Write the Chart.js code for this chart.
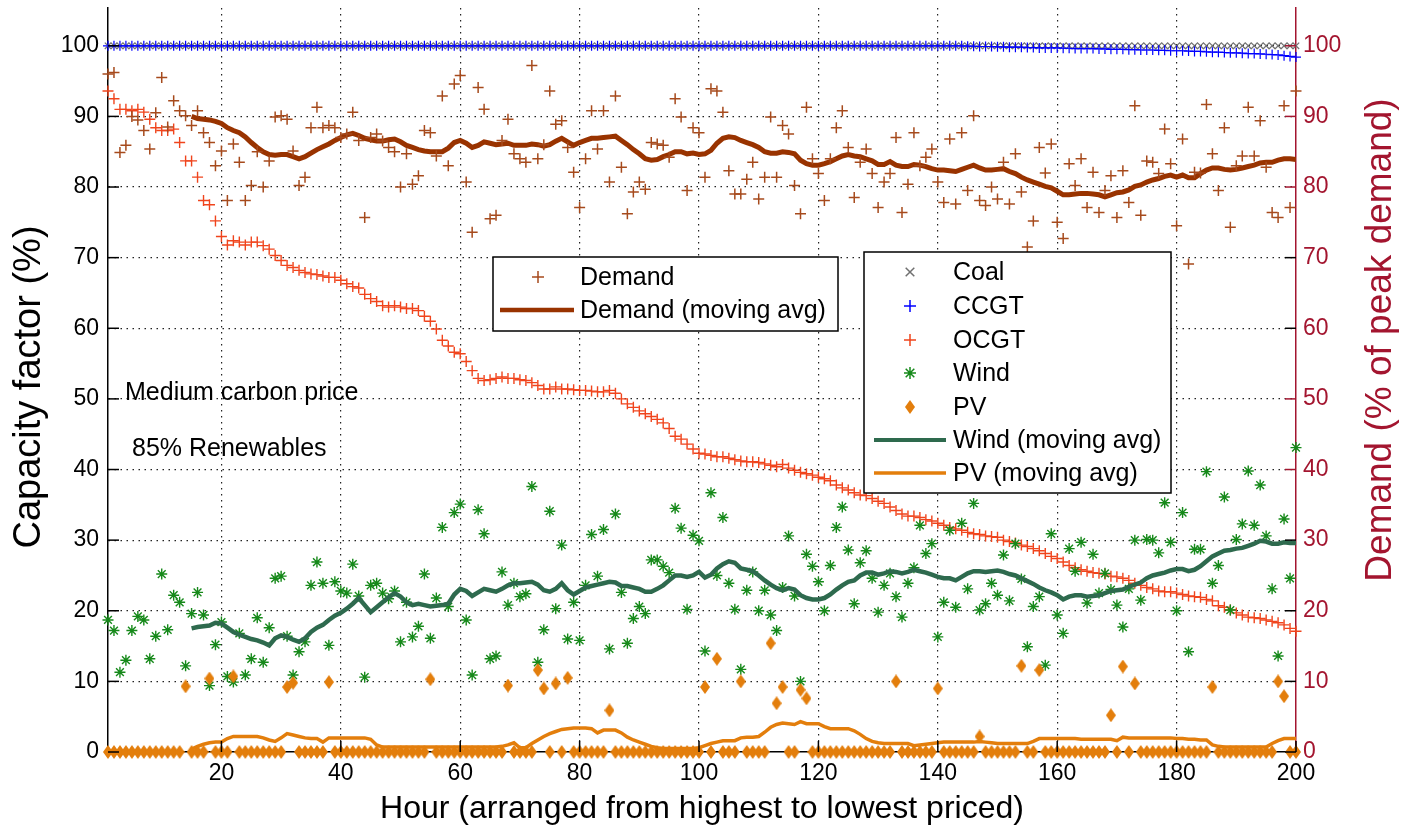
<!DOCTYPE html>
<html lang="en">
<head>
<meta charset="UTF-8">
<title>Capacity factor by hour</title>
<style>
  body { margin: 0; background: #fff; }
  #wrap { width: 1402px; height: 830px; }
</style>
</head>
<body>
<div id="wrap"><canvas id="chart" width="1402" height="830"></canvas></div>
<script src="https://cdn.jsdelivr.net/npm/chart.js"></script>
<script>
// hours, ordered from highest to lowest priced
const hours = [
  1,2,3,4,5,6,7,8,9,10,11,12,13,14,15,16,17,18,19,20,
  21,22,23,24,25,26,27,28,29,30,31,32,33,34,35,36,37,38,39,40,
  41,42,43,44,45,46,47,48,49,50,51,52,53,54,55,56,57,58,59,60,
  61,62,63,64,65,66,67,68,69,70,71,72,73,74,75,76,77,78,79,80,
  81,82,83,84,85,86,87,88,89,90,91,92,93,94,95,96,97,98,99,100,
  101,102,103,104,105,106,107,108,109,110,111,112,113,114,115,116,117,118,119,120,
  121,122,123,124,125,126,127,128,129,130,131,132,133,134,135,136,137,138,139,140,
  141,142,143,144,145,146,147,148,149,150,151,152,153,154,155,156,157,158,159,160,
  161,162,163,164,165,166,167,168,169,170,171,172,173,174,175,176,177,178,179,180,
  181,182,183,184,185,186,187,188,189,190,191,192,193,194,195,196,197,198,199,200
];
const xTicks = [20, 40, 60, 80, 100, 120, 140, 160, 180, 200];
const yTicks = [0, 10, 20, 30, 40, 50, 60, 70, 80, 90, 100];

// capacity factors (%)
const coal = [
  100,100,100,100,100,100,100,100,100,100,100,100,100,100,100,100,100,100,100,100,
  100,100,100,100,100,100,100,100,100,100,100,100,100,100,100,100,100,100,100,100,
  100,100,100,100,100,100,100,100,100,100,100,100,100,100,100,100,100,100,100,100,
  100,100,100,100,100,100,100,100,100,100,100,100,100,100,100,100,100,100,100,100,
  100,100,100,100,100,100,100,100,100,100,100,100,100,100,100,100,100,100,100,100,
  100,100,100,100,100,100,100,100,100,100,100,100,100,100,100,100,100,100,100,100,
  100,100,100,100,100,100,100,100,100,100,100,100,100,100,100,100,100,100,100,100,
  100,100,100,100,100,100,100,100,100,100,100,100,100,100,100,100,100,100,100,100,
  100,100,100,100,100,100,100,100,100,100,100,100,100,100,100,100,100,100,100,100,
  100,100,100,100,100,100,100,100,100,100,100,100,100,100,100,100,100,100,100,100
];
const ccgt = [
  100,100,100,100,100,100,100,100,100,100,100,100,100,100,100,100,100,100,100,100,
  100,100,100,100,100,100,100,100,100,100,100,100,100,100,100,100,100,100,100,100,
  100,100,100,100,100,100,100,100,100,100,100,100,100,100,100,100,100,100,100,100,
  100,100,100,100,100,100,100,100,100,100,100,100,100,100,100,100,100,100,100,100,
  100,100,100,100,100,100,100,100,100,100,100,100,100,100,100,100,100,100,100,100,
  100,100,100,100,100,100,100,100,100,100,100,100,100,100,100,100,100,100,100,100,
  100,100,100,100,100,100,100,100,100,100,100,100,100,100,100,100,100,100,100,100,
  100,100,100,100,99.95,99.95,99.9,99.9,99.9,99.85,99.85,99.8,99.8,99.8,99.75,99.75,99.7,99.7,99.7,99.7,
  99.65,99.65,99.6,99.6,99.6,99.6,99.55,99.55,99.5,99.5,99.5,99.45,99.45,99.4,99.4,99.4,99.35,99.35,99.3,99.3,
  99.3,99.25,99.2,99.2,99.15,99.1,99.1,99.05,99.0,99.0,98.95,98.9,98.9,98.85,98.8,98.75,98.7,98.6,98.5,98.4
];
const ocgt = [
  93.6,92.5,91.0,91.0,90.8,91.0,90.6,89.6,88.4,88.0,88.0,88.2,86.3,83.7,83.7,81.4,78.1,77.5,75.2,73.0,
  71.8,72.4,72.2,71.8,72.2,72.2,71.7,71.2,70.3,69.6,68.9,68.6,68.2,67.9,67.7,67.6,67.4,67.2,67.2,66.8,
  66.3,65.9,65.7,64.8,64.2,63.8,63.2,63.0,63.2,63.0,62.8,62.8,62.5,61.7,61.0,59.9,58.3,57.5,56.6,56.4,
  55.3,54.0,52.9,52.6,52.7,52.9,53.1,52.9,52.9,52.7,52.6,52.3,51.9,51.4,51.4,51.7,51.4,51.4,51.3,51.2,
  51.2,51.1,51.0,51.0,51.2,50.8,50.0,49.3,48.8,48.3,47.9,47.5,47.1,46.6,45.8,44.7,44.3,43.6,42.9,42.3,
  42.2,42.0,41.8,41.8,41.6,41.4,41.2,41.1,41.1,41.0,40.8,40.6,40.4,40.7,40.2,39.9,39.6,39.4,39.2,38.9,
  38.7,38.4,37.8,37.4,37.1,36.7,36.4,36.3,35.9,35.5,35.2,34.7,34.2,33.7,33.4,33.4,33.2,32.9,32.7,32.4,
  32.1,31.8,31.6,31.4,31.1,30.9,30.8,30.6,30.5,30.4,30.0,29.8,29.6,29.3,29.1,28.8,28.5,28.1,27.7,27.4,
  26.9,26.4,26.1,25.8,25.6,25.4,25.3,25.2,24.9,24.8,24.6,24.3,23.9,23.6,23.3,23.1,22.8,22.7,22.7,22.5,
  22.3,22.1,22.0,21.9,21.6,21.4,20.7,20.5,20.1,19.7,19.4,19.1,19.0,18.9,18.7,18.5,18.3,18.0,17.5,17.1
];
const wind = [
  18.7,17.2,11.3,13.0,17.2,19.2,18.7,13.2,16.4,25.2,17.3,22.2,21.2,12.2,19.6,22.6,19.4,9.4,15.2,18.4,
  10.7,9.9,16.8,10.9,13.2,19.0,12.7,17.6,24.6,24.9,16.4,10.9,14.2,15.6,23.6,26.9,23.9,15.1,24.1,22.8,
  22.5,26.6,22.1,10.6,23.6,23.9,22.5,21.7,22.8,15.6,21.2,16.3,17.8,25.2,16.1,21.8,31.8,20.6,33.9,35.1,
  18.7,10.9,34.3,30.9,13.2,13.6,25.5,20.8,23.9,22.0,22.4,37.6,12.7,17.3,34.1,20.3,29.3,16.0,21.2,15.8,
  23.6,30.8,24.9,31.5,14.6,33.7,22.6,15.4,18.9,20.6,19.6,27.2,27.2,26.3,25.4,34.5,31.7,20.2,30.7,29.9,
  14.3,36.7,25.0,33.2,23.9,20.2,11.7,22.9,25.5,20.0,22.9,19.4,17.2,23.3,30.6,22.1,10.0,28.0,26.3,24.1,
  20.0,26.4,31.8,34.7,28.6,21.0,26.8,28.5,24.6,19.8,23.6,25.3,22.0,19.1,23.9,26.1,32.1,28.1,29.5,16.3,
  21.2,31.4,20.5,32.4,23.1,35.2,20.1,21.0,23.9,22.2,27.9,21.4,29.5,24.5,14.9,20.6,22.0,12.3,30.9,19.4,
  16.8,28.8,25.6,29.7,21.1,28.0,22.5,25.3,23.0,20.8,17.7,23.1,30.0,21.5,30.1,30.0,28.2,35.3,29.7,20.0,
  33.9,14.2,28.7,28.7,39.7,23.9,26.4,36.1,20.1,30.1,32.3,39.8,32.1,37.8,30.6,23.1,13.6,33.0,24.6,43.1
];
const pv = [
  0,0,0,0,0,0,0,0,0,0,0,0,0,9.3,0,0,0,10.4,0,0,
  0,10.7,0,0,0,0,0,0,0,0,9.2,9.8,0,0,0,0,0,9.9,0,0,
  0,0,0,0,0,0,0,0,0,0,0,0,0,0,10.3,0,0,0,0,0,
  0,0,0,0,0,0,0,9.4,0,0,0,0,11.6,9.0,0,9.7,0,10.5,0,0,
  0,0,0,0,5.9,0,0,0,0,0,0,0,0,0,0,0,0,0,0,0,
  9.2,0,13.2,0,0,0,10.0,0,0,0,0,15.4,6.9,9.2,0,0,8.8,7.6,0,0,
  0,0,0,0,0,0,0,0,0,0,0,0,10.0,0,0,0,0,0,0,9.0,
  0,0,0,0,0,0,2.2,0,0,0,0,0,0,12.2,0,0,11.6,0,0,0,
  0,0,0,0,0,0,0,0,5.2,0,12.1,0,9.7,0,0,0,0,0,0,0,
  0,0,0,0,0,9.2,0,0,0,0,0,0,0,0,0,0,10.0,7.9,0,0
];
const windAvg = [
  null,null,null,null,null,null,null,null,null,null,null,null,null,null,17.5,17.7,17.8,17.9,18.3,18.2,
  17.6,17.0,16.6,16.3,16.0,15.8,15.5,15.1,16.1,16.5,16.3,15.9,15.6,16.1,17.0,17.6,18.0,18.7,19.3,19.7,
  20.3,21.0,21.8,20.8,19.8,20.5,21.2,21.9,22.5,22.0,21.2,20.8,21.0,20.8,20.6,20.7,20.8,21.0,22.3,23.1,
  22.8,22.1,22.6,23.1,22.9,22.7,23.1,23.6,23.9,23.9,24.0,24.1,23.7,22.9,22.7,23.1,23.9,22.9,22.3,22.8,
  23.3,23.5,23.7,23.9,24.1,24.0,23.5,23.5,23.3,23.1,22.7,22.7,23.1,23.6,24.3,25.0,25.0,24.8,25.0,25.5,
  24.7,25.1,26.0,26.6,27.0,26.8,26.0,25.8,25.6,25.0,24.3,23.7,23.2,22.9,23.2,23.0,22.2,21.8,21.6,21.6,
  21.8,22.3,23.0,23.6,24.1,24.3,25.0,25.4,25.4,25.1,25.3,25.6,25.5,25.3,25.5,25.8,25.6,25.4,25.1,24.8,
  24.6,24.6,24.3,24.8,25.3,25.6,25.6,25.5,25.6,25.7,25.5,25.2,25.0,24.6,24.2,23.8,23.3,22.9,22.6,22.2,
  21.6,22.0,22.2,22.2,22.0,22.1,22.2,22.5,22.8,22.9,23.0,23.4,23.7,24.0,24.6,25.0,25.2,25.4,25.7,25.9,
  25.9,25.6,25.8,26.3,27.0,27.7,28.1,28.5,28.6,28.8,28.9,29.2,29.5,29.9,29.8,29.5,29.5,29.7,29.6,29.6
];
const pvAvg = [
  null,null,null,null,null,null,null,null,null,null,null,null,null,null,0.4,0.8,1.1,1.3,1.4,1.4,
  1.9,2.2,2.2,2.2,2.2,2.2,2.0,1.7,1.5,2.0,2.6,2.4,2.2,2.0,1.9,1.9,1.4,2.0,2.0,2.0,
  2.0,2.0,2.0,2.0,1.8,1.0,0.7,0.7,0.7,0.7,0.7,0.7,0.7,0.7,0.7,0.7,0.7,0.7,0.7,0.7,
  0.7,0.7,0.7,0.7,0.7,0.7,0.8,1.0,1.3,0.6,0.6,1.2,1.7,2.2,2.6,2.9,3.2,3.3,3.4,3.4,
  3.4,3.3,2.7,3.1,3.1,3.1,2.7,2.1,1.7,1.4,1.1,0.8,0.6,0.5,0.5,0.5,0.5,0.5,0.5,0.6,
  0.9,1.2,1.4,1.6,1.6,1.6,2.0,2.1,2.1,2.2,2.8,3.5,3.9,4.1,4.0,3.9,4.3,4.0,4.0,4.0,
  3.6,3.3,3.3,3.3,3.3,3.0,2.5,1.9,1.5,1.3,1.2,1.2,1.2,1.2,1.2,0.9,1.0,1.1,1.2,1.3,
  1.4,1.4,1.4,1.4,1.4,1.4,1.5,1.4,1.3,1.2,1.2,1.2,1.2,1.2,1.2,1.5,1.9,1.9,1.9,1.9,
  1.9,1.9,1.9,1.8,1.8,1.8,1.8,1.8,1.8,1.6,2.1,2.0,2.0,2.0,2.0,2.0,2.0,2.0,2.0,1.9,
  1.9,1.8,1.8,1.7,1.7,1.0,0.8,0.7,0.7,0.7,0.7,0.7,0.7,0.7,0.7,1.2,1.6,1.9,1.9,1.9
];

// demand (% of peak demand), right axis
const demand = [
  96.0,96.2,84.9,85.9,90.0,89.5,88.0,85.4,90.5,95.5,88.5,92.2,90.8,90.1,88.7,90.8,87.7,86.3,83.0,85.1,
  78.1,86.1,83.5,78.1,80.2,85.0,80.0,83.7,89.9,90.1,89.6,85.1,80.2,81.4,88.4,91.3,88.4,88.7,88.4,87.0,
  87.5,90.6,86.6,75.7,87.0,87.5,86.5,85.6,85.0,80.0,84.7,80.4,81.6,88.0,87.7,84.4,92.9,83.0,94.6,95.8,
  80.7,73.6,94.1,91.0,75.5,76.0,86.6,89.6,84.7,84.0,83.5,97.2,84.0,86.0,93.6,88.9,89.4,85.6,82.1,77.1,
  84.0,90.8,85.4,90.8,80.7,92.9,82.8,76.2,79.3,80.7,79.7,86.3,86.1,85.9,84.2,92.5,89.9,79.5,88.4,87.7,
  81.4,93.9,93.6,90.6,82.3,79.0,79.0,81.1,83.5,78.3,81.4,89.9,81.4,88.7,87.5,80.2,76.2,91.3,84.0,81.9,
  78.1,84.0,88.4,90.8,85.6,78.5,83.5,85.4,81.9,77.1,80.7,81.9,87.0,76.4,80.4,87.7,83.0,84.2,85.4,80.7,
  77.8,86.8,77.6,87.7,79.5,90.1,78.1,77.4,80.0,78.3,83.5,77.6,84.7,79.3,71.5,75.2,85.6,82.0,86.1,75.0,
  72.7,83.3,80.2,84.0,77.1,82.1,76.4,79.5,81.6,75.7,82.3,77.8,91.5,76.0,83.7,83.5,81.9,88.2,83.3,74.5,
  86.8,69.1,82.1,82.0,91.7,84.7,79.5,88.4,74.3,83.0,84.4,91.3,84.4,89.4,82.8,76.4,75.7,91.5,77.1,93.6
];
const demandAvg = [
  null,null,null,null,null,null,null,null,null,null,null,null,null,null,90.0,89.7,89.6,89.5,89.3,89.0,
  88.4,88.0,87.7,87.1,86.3,85.6,85.0,84.6,84.5,84.6,84.6,84.3,84.0,84.3,84.8,85.3,85.7,86.1,86.6,87.0,
  87.4,87.6,87.3,86.9,86.7,86.5,86.5,86.7,86.8,86.4,85.9,85.6,85.3,85.1,85.0,85.0,85.0,85.5,86.3,86.6,
  86.2,85.6,85.9,86.4,86.2,86.0,86.1,86.2,85.9,85.9,85.9,86.1,86.0,85.8,86.0,86.5,86.9,86.4,85.9,86.3,
  86.6,86.9,86.9,87.0,87.1,87.2,86.6,86.0,85.3,84.7,84.0,83.8,83.9,84.3,84.6,85.0,85.0,84.7,84.8,84.6,
  84.7,85.2,86.2,86.9,87.1,87.0,86.6,86.3,86.0,85.6,85.0,84.8,84.8,85.0,84.9,84.7,83.8,83.3,83.1,83.1,
  83.3,83.6,84.0,84.4,84.6,84.4,84.3,84.0,83.7,83.2,83.2,83.6,83.1,82.9,82.9,83.2,83.1,82.9,82.6,82.4,
  82.4,82.3,82.2,82.5,82.8,83.1,82.7,82.4,82.4,82.5,82.6,82.2,81.9,81.4,81.0,80.7,80.4,80.1,79.9,79.4,
  78.9,78.9,79.0,79.1,79.1,79.0,78.9,78.6,78.9,79.2,79.3,79.6,80.1,80.3,80.7,81.0,81.2,81.5,81.7,81.4,
  81.7,81.3,81.3,81.9,82.4,82.7,82.7,82.5,82.4,82.5,82.7,82.9,83.1,83.4,83.5,83.5,83.8,84.0,84.0,83.9
];

const FONT = '"Liberation Sans", Arial, Helvetica, sans-serif';
const RED = '#a3152f';
const C_DEMAND = '#a64a1c';
const C_DEMAND_AVG = '#993300';
const C_OCGT = '#f0441c';
const C_WIND = '#16891a';
const C_WIND_AVG = '#2e6a4e';
const C_PV = '#e37e0c';
const C_CCGT = '#0000ff';
const C_COAL = '#707070';

Chart.defaults.font.family = FONT;
Chart.defaults.color = '#000';

// MATLAB style diamond (taller than wide)
function diamond(w, h, color) {
  const c = document.createElement('canvas');
  c.width = w; c.height = h;
  const g = c.getContext('2d');
  g.fillStyle = color;
  g.beginPath();
  g.moveTo(w / 2, 0); g.lineTo(w, h / 2); g.lineTo(w / 2, h); g.lineTo(0, h / 2);
  g.closePath(); g.fill();
  return c;
}
const pvMarker = diamond(10, 14, C_PV);

function pts(vals) {
  return hours.map((h, i) => ({ x: h, y: vals[i] })).filter(p => p.y !== null);
}

function drawMarker(ctx, kind, x, y, color) {
  ctx.save();
  ctx.strokeStyle = color;
  ctx.lineWidth = 1.5;
  ctx.beginPath();
  if (kind === 'cross' || kind === 'star') {
    ctx.moveTo(x - 6, y); ctx.lineTo(x + 6, y);
    ctx.moveTo(x, y - 6); ctx.lineTo(x, y + 6);
  }
  if (kind === 'crossRot' || kind === 'star') {
    const d = 4.3;
    ctx.moveTo(x - d, y - d); ctx.lineTo(x + d, y + d);
    ctx.moveTo(x - d, y + d); ctx.lineTo(x + d, y - d);
  }
  ctx.stroke();
  if (kind === 'diamond') ctx.drawImage(pvMarker, x - pvMarker.width / 2, y - pvMarker.height / 2);
  ctx.restore();
}

const legends = [
  { box: [493, 257, 345, 74], markX: 538, lineX: [500, 574], textX: 580, items: [
    { label: 'Demand', kind: 'cross', color: C_DEMAND, y: 277 },
    { label: 'Demand (moving avg)', kind: 'line', color: C_DEMAND_AVG, width: 4.5, y: 310 }
  ]},
  { box: [864, 252, 307, 241], markX: 910, lineX: [874, 946], textX: 953, items: [
    { label: 'Coal', kind: 'crossRot', color: C_COAL, y: 272 },
    { label: 'CCGT', kind: 'cross', color: C_CCGT, y: 306 },
    { label: 'OCGT', kind: 'cross', color: C_OCGT, y: 340 },
    { label: 'Wind', kind: 'star', color: C_WIND, y: 373 },
    { label: 'PV', kind: 'diamond', color: C_PV, y: 407 },
    { label: 'Wind (moving avg)', kind: 'line', color: C_WIND_AVG, width: 4, y: 440 },
    { label: 'PV (moving avg)', kind: 'line', color: C_PV, width: 3.5, y: 473 }
  ]}
];

const overlay = {
  id: 'overlay',
  afterDatasetsDraw(chart) {
    const ctx = chart.ctx;
    ctx.save();
    ctx.font = '25px ' + FONT;
    ctx.fillStyle = '#000';
    ctx.textBaseline = 'middle';
    ctx.fillText('Medium carbon price', 125, 393);
    ctx.fillText('85% Renewables', 132, 449);

    legends.forEach(lg => {
      const [bx, by, bw, bh] = lg.box;
      ctx.fillStyle = '#fff';
      ctx.fillRect(bx, by, bw, bh);
      ctx.strokeStyle = '#000';
      ctx.lineWidth = 1.5;
      ctx.strokeRect(bx, by, bw, bh);
      lg.items.forEach(it => {
        if (it.kind === 'line') {
          ctx.save();
          ctx.strokeStyle = it.color;
          ctx.lineWidth = it.width;
          ctx.beginPath();
          ctx.moveTo(lg.lineX[0], it.y); ctx.lineTo(lg.lineX[1], it.y);
          ctx.stroke();
          ctx.restore();
        } else {
          drawMarker(ctx, it.kind, lg.markX, it.y, it.color);
        }
        ctx.fillStyle = '#000';
        ctx.fillText(it.label, lg.textX, it.y + 1);
      });
    });
    ctx.restore();
  },
  afterDraw(chart) {
    const { ctx, chartArea: a, scales } = chart;
    ctx.save();
    ctx.lineWidth = 1.5;
    const tick = (x1, y1, x2, y2, c) => {
      ctx.strokeStyle = c;
      ctx.beginPath(); ctx.moveTo(x1, y1); ctx.lineTo(x2, y2); ctx.stroke();
    };
    yTicks.forEach(v => {
      const y = scales.y.getPixelForValue(v);
      tick(a.left, y, a.left + 11, y, '#000');
      tick(a.right, y, a.right - 11, y, [100, 90, 80, 50, 40].includes(v) ? RED : '#000');
    });
    xTicks.forEach(v => {
      const x = scales.x.getPixelForValue(v);
      tick(x, a.bottom, x, a.bottom - 11, '#000');
    });
    // axis titles, both reading bottom to top like MATLAB
    ctx.textAlign = 'center';
    ctx.textBaseline = 'middle';
    ctx.save();
    ctx.translate(30, 387);
    ctx.rotate(-Math.PI / 2);
    ctx.font = '38px ' + FONT;
    ctx.fillStyle = '#000';
    ctx.fillText('Capacity factor (%)', 0, 0);
    ctx.restore();
    ctx.translate(1381, 340);
    ctx.rotate(-Math.PI / 2);
    ctx.font = '37px ' + FONT;
    ctx.fillStyle = RED;
    ctx.fillText('Demand (% of peak demand)', 0, 0);
    ctx.restore();
  }
};

const scatterBase = { showLine: false, clip: false, pointHoverRadius: 0 };
const Y_MAX = 105.35;

new Chart(document.getElementById('chart'), {
  type: 'scatter',
  data: {
    datasets: [
      { ...scatterBase, label: 'Demand', data: pts(demand), yAxisID: 'y2',
        pointStyle: 'cross', pointRadius: 5.5, borderColor: C_DEMAND, backgroundColor: C_DEMAND, pointBorderWidth: 1.5 },
      { label: 'Demand (moving avg)', data: pts(demandAvg), yAxisID: 'y2', showLine: true,
        pointRadius: 0, borderColor: C_DEMAND_AVG, borderWidth: 5 },
      { label: 'PV (moving avg)', data: pts(pvAvg), yAxisID: 'y', showLine: true,
        pointRadius: 0, borderColor: C_PV, borderWidth: 3.5 },
      { label: 'Wind (moving avg)', data: pts(windAvg), yAxisID: 'y', showLine: true,
        pointRadius: 0, borderColor: C_WIND_AVG, borderWidth: 4.5 },
      { ...scatterBase, label: 'PV', data: pts(pv), yAxisID: 'y',
        pointStyle: pvMarker, pointRadius: 6 },
      { ...scatterBase, label: 'Wind', data: pts(wind), yAxisID: 'y',
        pointStyle: 'star', pointRadius: 5.5, borderColor: C_WIND, backgroundColor: C_WIND, pointBorderWidth: 1.4 },
      { ...scatterBase, label: 'OCGT', data: pts(ocgt), yAxisID: 'y',
        pointStyle: 'cross', pointRadius: 5.5, borderColor: C_OCGT, backgroundColor: C_OCGT, pointBorderWidth: 1.4 },
      { ...scatterBase, label: 'CCGT', data: pts(ccgt), yAxisID: 'y',
        pointStyle: 'cross', pointRadius: 5, borderColor: C_CCGT, backgroundColor: C_CCGT, pointBorderWidth: 1.2 },
      { ...scatterBase, label: 'Coal', data: pts(coal), yAxisID: 'y',
        pointStyle: 'crossRot', pointRadius: 4.5, borderColor: C_COAL, backgroundColor: C_COAL, pointBorderWidth: 1.2 }
    ]
  },
  options: {
    responsive: false,
    animation: false,
    events: [],
    layout: { padding: { top: 8, bottom: 0, left: 0, right: 0 } },
    plugins: { legend: { display: false }, tooltip: { enabled: false } },
    scales: {
      x: {
        type: 'linear', min: 1, max: 200,
        afterBuildTicks: s => { s.ticks = xTicks.map(v => ({ value: v })); },
        afterFit: s => { s.height = 78; s.paddingLeft = 0; s.paddingRight = 0; },
        ticks: { color: '#000', font: { size: 23 }, padding: 8, maxRotation: 0, autoSkip: false },
        grid: { color: c => (c.tick && c.tick.value >= 200) ? 'rgba(0,0,0,0)' : '#222', lineWidth: 1.2, drawTicks: false },
        border: { color: '#000', width: 1.5, dash: [1.5, 4.5] },
        title: { display: true, text: 'Hour (arranged from highest to lowest priced)', color: '#000',
          font: { size: 32 }, padding: { top: 0, bottom: 2 } }
      },
      y: {
        position: 'left', min: 0, max: Y_MAX,
        afterBuildTicks: s => { s.ticks = yTicks.map(v => ({ value: v })); },
        afterFit: s => { s.width = 108; s.paddingTop = 0; s.paddingBottom = 0; },
        ticks: { color: '#000', font: { size: 23 }, padding: 9 },
        grid: { color: c => (c.tick && c.tick.value === 0) ? 'rgba(0,0,0,0)' : '#222', lineWidth: 1.2, drawTicks: false },
        border: { color: '#000', width: 1.5, dash: [1.5, 4.5] }
      },
      y2: {
        position: 'right', min: 0, max: Y_MAX,
        afterBuildTicks: s => { s.ticks = yTicks.map(v => ({ value: v })); },
        afterFit: s => { s.width = 106; s.paddingTop = 0; s.paddingBottom = 0; },
        ticks: { color: RED, font: { size: 23 }, padding: 7 },
        grid: { drawOnChartArea: false, drawTicks: false },
        border: { color: RED, width: 1.5 }
      }
    }
  },
  plugins: [overlay]
});
</script>
</body>
</html>
